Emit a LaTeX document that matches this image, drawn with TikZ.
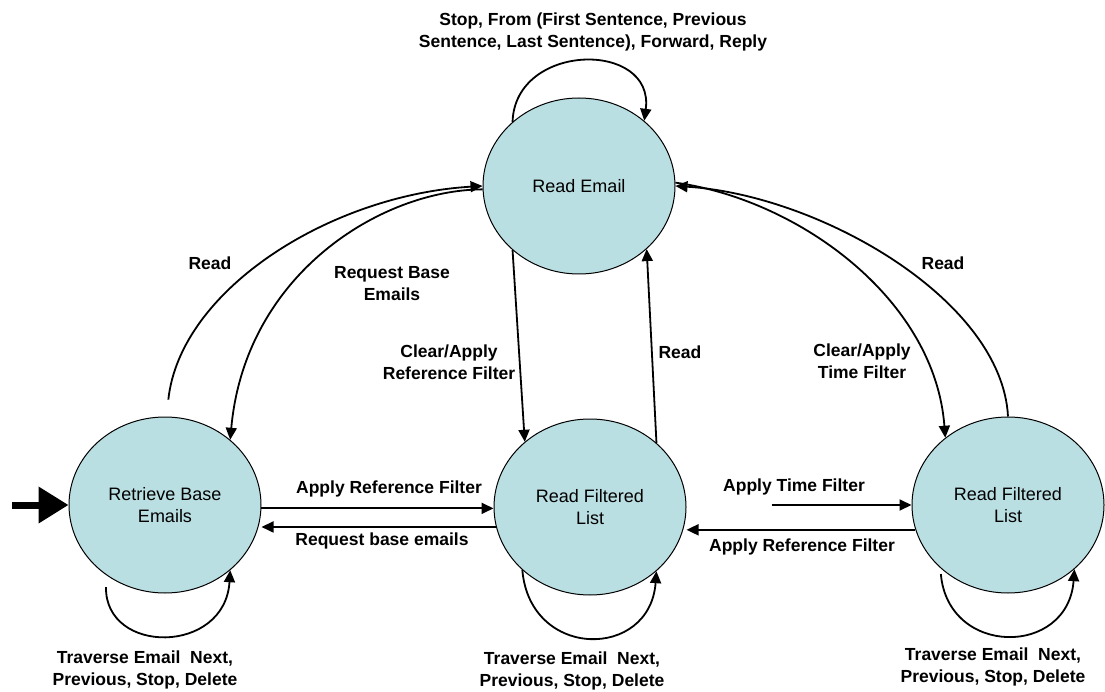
\documentclass[tikz,border=0pt]{standalone}
\usepackage{fontspec}
\setmainfont{Liberation Sans}
\usetikzlibrary{arrows.meta,shapes.geometric}
\definecolor{statefill}{RGB}{186,223,227}
\begin{document}
\begin{tikzpicture}[x=1pt,y=-1pt,
  state/.style={ellipse, draw=black, line width=1pt, fill=statefill,
    minimum width=192pt, minimum height=176pt, inner sep=0pt, align=center,
    font=\fontsize{18}{22}\selectfont},
  lbl/.style={align=center, inner sep=0pt, font=\bfseries\fontsize{17.5}{22}\selectfont},
  arr/.style={line width=1.8pt, -{Triangle[length=12pt,width=11pt]}},
]
\useasboundingbox (0,0) rectangle (1105,692);

% states
\node[state] (re)  at (579,186)  {Read Email};
\node[state] (ret) at (165,505)  {Retrieve Base\\Emails};
\node[state] (mid) at (590,507)  {Read Filtered\\List};
\node[state] (rr)  at (1008,505) {Read Filtered\\List};

% initial state marker
\coordinate (entry) at (12,505);
\draw[line width=7pt, -{Triangle[length=30pt,width=35pt]}] (entry) -- (ret.west);

% self loops
\draw[arr] (re.136) .. controls (515,42) and (655,40) .. (re.45);
\draw[arr, shorten <=12pt] (ret.-130) .. controls (105,655) and (225,655) .. (ret.-45);
\draw[arr] (mid.-137) .. controls (530,660) and (650,660) .. (mid.-44);
\draw[arr, shorten <=6pt] (rr.-137) .. controls (948,657) and (1068,657) .. (rr.-44);

% arcs between Read Email and the lower states
\draw[arr, shorten <=17pt] (ret.89) .. controls (180,290) and (330,195) .. (re.west);
\draw[arr] (re.182) .. controls (380,190) and (245,275) .. (ret.45);
\draw[arr] (rr.north) .. controls (1002,300) and (820,195) .. (re.east);
\draw[arr] (re.2) .. controls (800,200) and (935,300) .. (rr.133);
\draw[arr] (re.-136) -- (mid.135);
\draw[arr] (mid.44) -- (re.-43);

% horizontal transitions
\draw[arr] (ret.-2) -- (ret.-2 -| mid.west);
\draw[arr] (mid.192) -- (mid.192 -| ret.east);
\draw[arr, shorten <=85pt] (rr.west -| mid.east) -- (rr.west);
\draw[arr] (rr.195) -- (rr.195 -| mid.east);

% transition labels
\node[lbl] (lStop) at (593,32) {Stop, From (First Sentence, Previous\\Sentence, Last Sentence), Forward, Reply};
\node[lbl] (lReadA) at (210,263) {Read};
\node[lbl] (lReqBase) at (392,284) {Request Base\\Emails};
\node[lbl] (lClearRef) at (449,362) {Clear/Apply\\Reference Filter};
\node[lbl] (lReadB) at (680,352) {Read};
\node[lbl] (lClearTime) at (862,361) {Clear/Apply\\Time Filter};
\node[lbl] (lReadC) at (943,263) {Read};
\node[lbl] (lApplyRefA) at (389,489) {Apply Reference Filter};
\node[lbl] (lReqBaseB) at (382,541) {Request base emails};
\node[lbl] (lApplyTime) at (794,487) {Apply Time Filter};
\node[lbl] (lApplyRefB) at (802,547) {Apply Reference Filter};
\node[lbl] (lTravA) at (145,670) {Traverse Email\ \ Next,\\Previous, Stop, Delete};
\node[lbl] (lTravB) at (572,671) {Traverse Email\ \ Next,\\Previous, Stop, Delete};
\node[lbl] (lTravC) at (993,667) {Traverse Email\ \ Next,\\Previous, Stop, Delete};
\end{tikzpicture}
\end{document}
